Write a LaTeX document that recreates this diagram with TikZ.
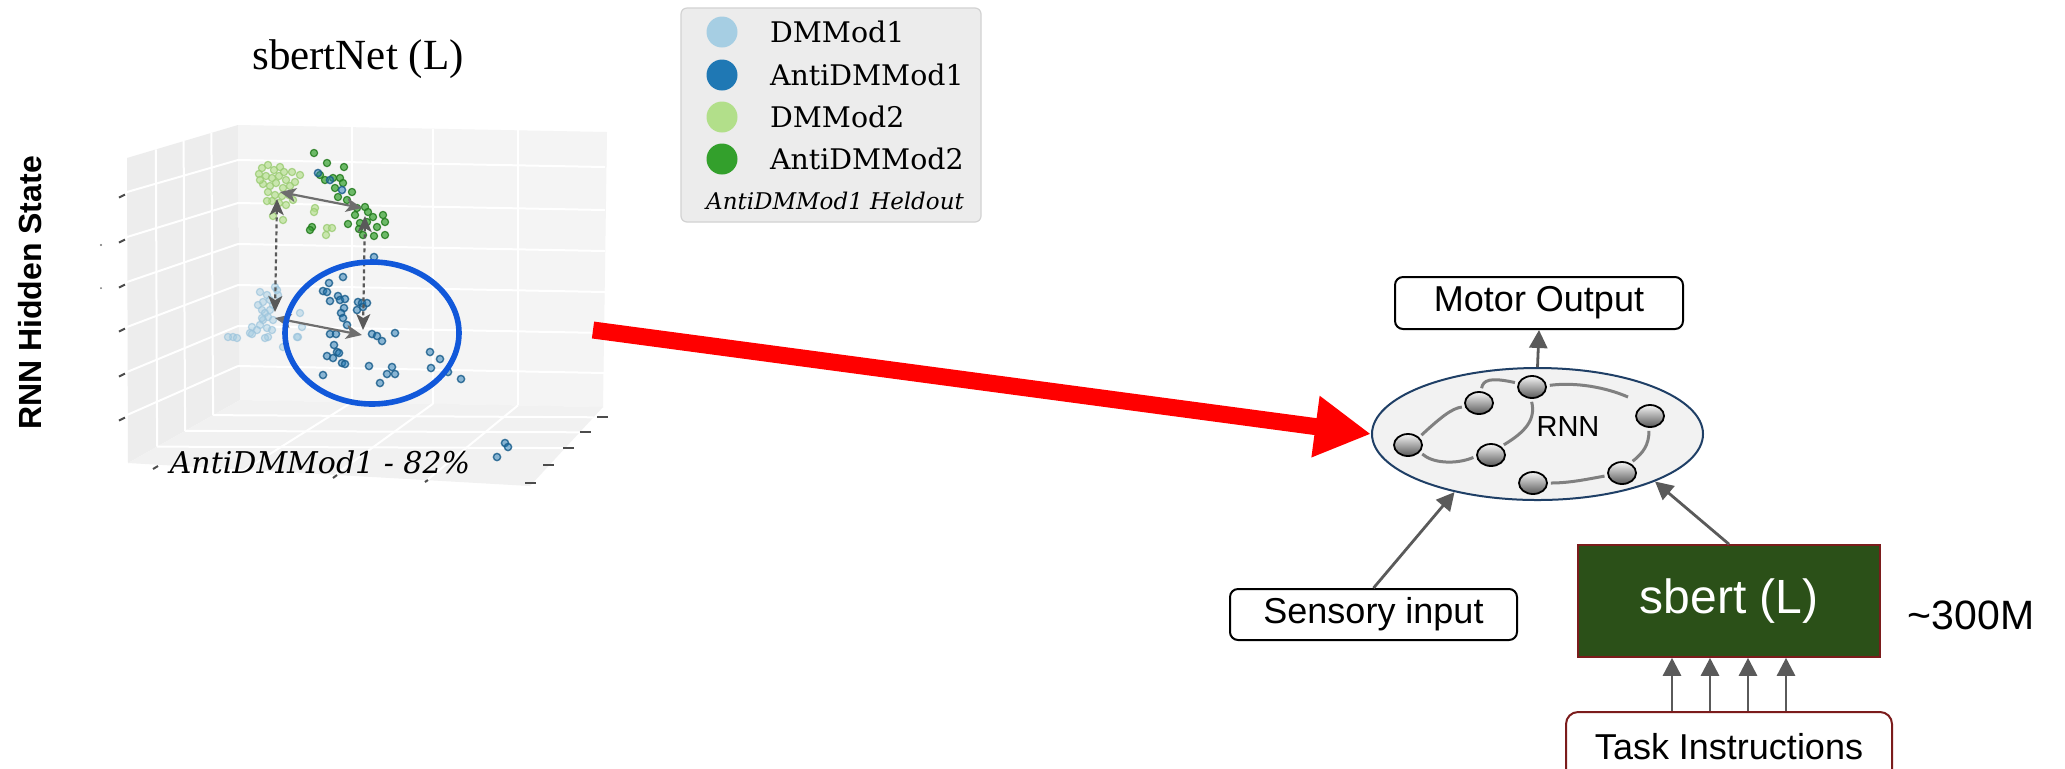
\documentclass[tikz,border=0pt]{standalone}
\usepackage{fontspec}
\setmainfont{Liberation Sans}
\newfontfamily\timesf{Liberation Serif}
\newfontfamily\djs{DejaVu Serif}
\usetikzlibrary{arrows.meta,shapes.geometric,calc}
\definecolor{paneL}{HTML}{EDEDED}
\definecolor{paneB}{HTML}{F4F4F4}
\definecolor{paneF}{HTML}{F1F1F1}
\definecolor{dmone}{HTML}{A6CEE3}
\definecolor{dmoneedge}{HTML}{9CC4DC}
\definecolor{antione}{HTML}{1F78B4}
\definecolor{antioneedge}{HTML}{1A5E8C}
\definecolor{dmtwo}{HTML}{B2DF8A}
\definecolor{dmtwoedge}{HTML}{9ACB72}
\definecolor{antitwo}{HTML}{33A02C}
\definecolor{antitwoedge}{HTML}{237A1E}
\definecolor{legendfill}{HTML}{ECECEC}
\definecolor{legendedge}{HTML}{D2D2D2}
\definecolor{circblue}{HTML}{1158DA}
\definecolor{arrowgray}{HTML}{5A5A5A}
\definecolor{plotarrow}{HTML}{6E6E6E}
\definecolor{wiregray}{HTML}{808080}
\definecolor{rnnedge}{HTML}{1F3F66}
\definecolor{rnnfill}{HTML}{F2F2F2}
\definecolor{sbertgreen}{HTML}{2B5018}
\definecolor{darkred}{HTML}{7B1C1C}
\begin{document}
\begin{tikzpicture}[x=0.5pt,y=-0.5pt,
  gridline/.style={draw=white, line width=1pt},
  tickmark/.style={draw=black!70, line width=1pt},
  dmonept/.style={fill=dmone, fill opacity=0.5, draw=dmoneedge, draw opacity=0.7, line width=0.6pt},
  antionept/.style={fill=antione, fill opacity=0.5, draw=antioneedge, draw opacity=0.85, line width=0.7pt},
  dmtwopt/.style={fill=dmtwo, fill opacity=0.65, draw=dmtwoedge, draw opacity=0.8, line width=0.6pt},
  antitwopt/.style={fill=antitwo, fill opacity=0.7, draw=antitwoedge, draw opacity=0.85, line width=0.6pt},
  plotarr/.style={draw=plotarrow, line width=1.1pt, {Stealth[length=8pt,width=7pt,inset=2pt]}-{Stealth[length=8pt,width=7pt,inset=2pt]}},
  plotdash/.style={draw=black!65, line width=1.1pt, dash pattern=on 2pt off 1.5pt, {Stealth[length=8pt,width=7pt,inset=2pt]}-{Stealth[length=8pt,width=7pt,inset=2pt]}},
  garrow/.style={draw=arrowgray, line width=1.4pt, -{Triangle[length=9pt,width=9pt]}},
  lbox/.style={draw=black, line width=1pt, rounded corners=4pt, fill=white, inner sep=0pt, font=\fontsize{18}{20}\selectfont},
  neuron/.style={ellipse, draw=black, line width=0.9pt, minimum width=14pt, minimum height=11pt, inner sep=0pt, top color=gray!8, bottom color=black!65},
  wire/.style={draw=wiregray, line width=1.5pt, shorten <=1.5pt, shorten >=1.5pt},
  legtext/.style={anchor=west, font=\djs\fontsize{14.2}{16}\selectfont}
]
\useasboundingbox (0,0) rectangle (2065,768);
\fill[white] (0,0) rectangle (2065,768);

% ---------------- 3D plot panes ----------------
\coordinate (BTL) at (238,125);
\coordinate (BTR) at (607,132);
\coordinate (BBR) at (603,407);
\coordinate (BBL) at (240,400);
\coordinate (FTL) at (127,158);
\coordinate (FBL) at (128,463);
\coordinate (FBR) at (530,486);
\fill[paneL] (FTL) -- (BTL) -- (BBL) -- (FBL) -- cycle;
\fill[paneB] (BTL) -- (BTR) -- (BBR) -- (BBL) -- cycle;
\fill[paneF] (FBL) -- (BBL) -- (BBR) -- (FBR) -- cycle;

% grid on back wall
\foreach \x in {352,433,518}
  \draw[gridline] (\x,{125+(\x-238)*7/369}) -- (\x,{400+(\x-238)*7/369});
\foreach \yl in {160,203,244,285,326,366}
  \draw[gridline] (238,\yl) -- (605,{\yl+7});
% grid on left wall
\foreach \yf/\yb in {192/160,237/203,282/244,327/285,372/326,415/366}
  \draw[gridline] (127,\yf) -- (238,\yb);
\foreach \t in {0.24,0.49,0.74}
  \draw[gridline] ($(BTL)!\t!(FTL)$) -- ($(BBL)!\t!(FBL)$);
% grid on floor
\foreach \tl/\tr in {0.24/0.13,0.49/0.32,0.74/0.52}
  \draw[gridline] ($(BBL)!\tl!(FBL)$) -- ($(BBR)!\tr!(FBR)$);
\foreach \xb/\xf in {352/245,433/335,518/427}
  \draw[gridline] (\xb,{400+(\xb-238)*7/369}) -- (\xf,{463+(\xf-128)*23/402});

% ticks
\foreach \y in {196,241,286,330,375,419}
  \draw[tickmark] (119,{\y+1.5}) -- (125,{\y-1.5});
\foreach \x/\y in {597/417,580/432,563/448,543/465,525/483}
  \draw[tickmark] (\x,\y) -- ({\x+11},\y);
\draw[tickmark] (153,469) -- (158,466);
\draw[tickmark] (333,478) -- (337,475);
\draw[tickmark] (425,482) -- (428,480);
\fill[black!55] (101,245) circle (1.2);
\fill[black!55] (101,288) circle (1);

% ---------------- scatter points ----------------
\foreach \p in {(262,168),(268,165),(274,170),(280,167),(259,174),(266,176),(272,178),(279,176),(286,180),(263,184),(270,186),(276,183),(283,188),(290,186),(295,182),(268,192),(275,195),(282,196),(289,195),(272,201),(279,203),(286,205),(293,200),(267,201),(273,216),(283,220),(315,208),(314,212),(327,228),(332,228),(326,235),(300,175),(292,172),(260,180),(284,172)}
  \filldraw[dmtwopt] \p circle (3.6);
\foreach \p in {(314,153),(327,163),(344,167),(320,175),(325,180),(333,178),(340,178),(343,183),(352,192),(338,197),(347,200),(357,208),(365,207),(355,215),(360,223),(367,222),(373,217),(383,215),(385,222),(377,227),(363,235),(374,236),(385,235),(348,224),(312,227),(310,230),(368,212),(359,229),(335,188)}
  \filldraw[antitwopt] \p circle (3.6);
\foreach \p in {(260,292),(267,295),(275,287),(278,295),(263,302),(270,300),(273,305),(262,310),(265,313),(268,317),(263,320),(260,325),(267,328),(272,330),(252,327),(257,330),(250,333),(268,337),(265,338),(233,337),(237,338),(283,347),(298,337),(302,327),(300,313),(277,290),(262,318),(273,320),(228,337),(252,334),(297,337),(258,305),(270,310)}
  \filldraw[dmonept] \p circle (3.6);
\foreach \p in {(318,173),(330,180),(342,190),(374,257),(343,277),(329,283),(323,291),(327,292),(330,301),(338,296),(340,300),(345,299),(344,308),(341,313),(343,318),(347,325),(358,302),(362,303),(357,310),(363,307),(367,303),(330,334),(336,334),(372,334),(377,336),(382,341),(395,333),(334,345),(337,352),(339,353),(327,356),(333,358),(342,363),(345,364),(323,375),(369,366),(392,367),(387,374),(395,374),(380,383),(430,352),(440,359),(431,368),(448,372),(461,379),(505,443),(508,447),(497,457)}
  \filldraw[antionept] \p circle (3.6);

% ---------------- cluster arrows ----------------
\coordinate (dmtwoC) at (280,192);
\coordinate (antitwoC) at (362,208);
\coordinate (dmtwoV) at (277,199);
\coordinate (dmoneV) at (275,312);
\coordinate (antitwoV) at (365,216);
\coordinate (antioneV) at (363,330);
\coordinate (dmoneC) at (275,318);
\coordinate (antioneC) at (362,335);
\draw[plotarr] (dmtwoC) -- (antitwoC);
\draw[plotarr] (dmoneC) -- (antioneC);
\draw[plotdash] (dmtwoV) -- (dmoneV);
\draw[plotdash] (antitwoV) -- (antioneV);

% highlight circle
\draw[circblue, line width=2.8pt] (372,333) ellipse [x radius=87, y radius=71];

% plot texts
\node[font=\timesf\fontsize{21.5}{24}\selectfont] (title) at (358,59) {sbertNet (L)};
\node[rotate=90, font=\bfseries\fontsize{16}{18}\selectfont] (ylab) at (30,293) {RNN Hidden State};
\node[font=\djs\itshape\fontsize{15}{17}\selectfont] (acc) at (320,462) {AntiDMMod1 - 82\%};

% ---------------- legend ----------------
\node[draw=legendedge, line width=0.6pt, fill=legendfill, rounded corners=3pt, minimum width=150pt, minimum height=107pt, inner sep=0pt] (legend) at (831,115) {};
\fill[dmone] (722,32) circle (15.5);
\fill[antione] (722,75) circle (15.5);
\fill[dmtwo] (722,117) circle (15.5);
\fill[antitwo] (722,159) circle (15.5);
\node[legtext] (l1) at (763,32) {DMMod1};
\node[legtext] (l2) at (763,75) {AntiDMMod1};
\node[legtext] (l3) at (763,117) {DMMod2};
\node[legtext] (l4) at (763,159) {AntiDMMod2};
\node[font=\djs\itshape\fontsize{11.5}{13}\selectfont] (l5) at (835,201) {AntiDMMod1 Heldout};

% ---------------- RNN model ----------------
\node[ellipse, draw=rnnedge, line width=1pt, fill=rnnfill, minimum width=165.5pt, minimum height=66pt, inner sep=0pt] (rnn) at (1537.5,434) {};
\node[font=\fontsize{14.5}{16}\selectfont] (rnnlab) at (1568,427) {RNN};
\node[neuron] (n1) at (1408,445) {};
\node[neuron] (n2) at (1479,403) {};
\node[neuron] (n3) at (1532,387) {};
\node[neuron] (n4) at (1491,455) {};
\node[neuron] (n5) at (1650,416) {};
\node[neuron] (n6) at (1533,483) {};
\node[neuron] (n7) at (1622,473) {};
\coordinate (wend) at (1628,397);
\draw[wire] (n1.35) .. controls (1440,418) and (1452,408) .. (n2.195);
\draw[wire] (n1.-30) .. controls (1432,463) and (1455,465) .. (n4.185);
\draw[wire] (n2.80) .. controls (1483,380) and (1490,377) .. (n3.165);
\draw[wire, shorten >=0pt] (n3.5) .. controls (1575,382) and (1605,387) .. (wend);
\draw[wire] (n3.-95) .. controls (1536,420) and (1525,432) .. (n4.40);
\draw[wire] (n5.-95) .. controls (1649,445) and (1643,453) .. (n7.50);
\draw[wire] (n6.0) .. controls (1570,483) and (1588,479) .. (n7.190);

\node[lbox, minimum width=144pt, minimum height=26pt] (motor) at (1539,303) {Motor Output};
\node[lbox, minimum width=143.5pt, minimum height=25.5pt] (sensory) at (1373.5,614.5) {Sensory input};
\node[draw=darkred, line width=0.8pt, fill=sbertgreen, text=white, minimum width=151pt, minimum height=56pt, inner sep=0pt, font=\fontsize{24}{26}\selectfont] (sbert) at (1729,601) {sbert (L)};
\node[draw=darkred, line width=1pt, rounded corners=6pt, fill=white, minimum width=163pt, minimum height=35pt, inner sep=0pt, font=\fontsize{18}{20}\selectfont] (task) at (1729,747) {Task Instructions};
\node[font=\fontsize{20.5}{22}\selectfont] (params) at (1971,615) {\textasciitilde300M};

\draw[garrow] (rnn.north) -- (motor.south);
\draw[garrow] (sensory.north) -- (rnn.215);
\draw[garrow] (sbert.north) -- (rnn.-22);
\foreach \dx in {-57,-19,19,57}
  \draw[garrow] ([xshift=\dx*0.5pt]task.north) -- ([xshift=\dx*0.5pt]sbert.south);

% ---------------- red arrow ----------------
\coordinate (redstart) at (593,330);
\draw[red, line width=8.5pt, -{Triangle[length=28pt,width=29pt]}] (redstart) -- (rnn.west);
\end{tikzpicture}
\end{document}
